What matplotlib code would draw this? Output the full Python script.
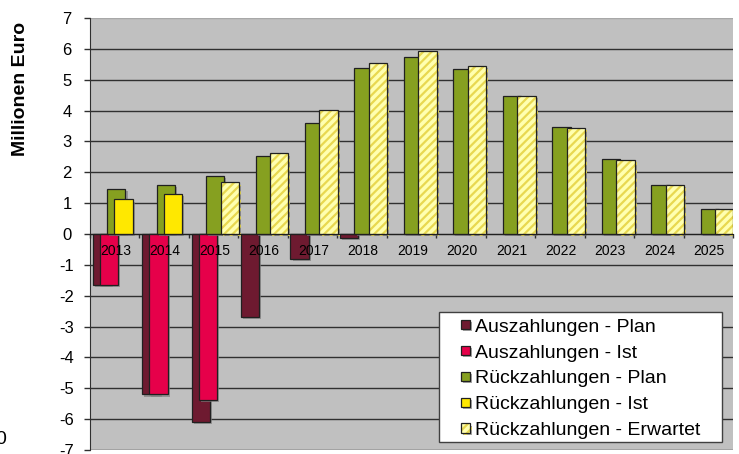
import numpy as np
import matplotlib.pyplot as plt
from matplotlib.patches import Rectangle
import matplotlib.patheffects as pe

plt.rcParams['font.family'] = ['Liberation Sans', 'DejaVu Sans']
plt.rcParams['axes.unicode_minus'] = False
plt.rcParams['hatch.linewidth'] = 1.6

nan = np.nan

# years on the x axis
years = ['2013', '2014', '2015', '2016', '2017', '2018', '2019',
         '2020', '2021', '2022', '2023', '2024', '2025']

# values in Mio. Euro
aus_plan = [-1.65, -5.2, -6.1, -2.7, -0.8, -0.13, nan, nan, nan, nan, nan, nan, nan]
aus_ist = [-1.65, -5.2, -5.37, nan, nan, nan, nan, nan, nan, nan, nan, nan, nan]
rueck_plan = [1.46, 1.58, 1.87, 2.52, 3.59, 5.37, 5.75, 5.34, 4.46, 3.48, 2.44, 1.58, 0.8]
rueck_ist = [1.12, 1.29, nan, nan, nan, nan, nan, nan, nan, nan, nan, nan, nan]
rueck_erw = [nan, nan, 1.67, 2.61, 4.01, 5.53, 5.93, 5.45, 4.48, 3.44, 2.41, 1.58, 0.8]

labels = ['Auszahlungen - Plan', 'Auszahlungen - Ist', 'Rückzahlungen - Plan',
          'Rückzahlungen - Ist', 'Rückzahlungen - Erwartet']
colors = ['#6E1A30', '#E6004A', '#86A020', '#FFE800', '#FFFFB0']
hatch_col = '#E8D850'
edge = '#202020'

fig = plt.figure(figsize=(7.39, 4.54), dpi=100)
ax = fig.add_axes([90 / 739, 4 / 454, 643 / 739, 432 / 454])
ax.set_facecolor('#C0C0C0')

x = np.arange(len(years))
w = 0.37
step = 0.1466
first = -0.5 + 0.053 + w / 2   # centre of first bar inside a category

shadow = [pe.SimplePatchShadow(offset=(1.5, -1.5), shadow_rgbFace='#808080', alpha=0.7),
          pe.Normal()]

series = [aus_plan, aus_ist, rueck_plan, rueck_ist, rueck_erw]
handles = []
for k, vals in enumerate(series):
    pos = x + first + k * step
    if k == 4:
        # hatched bars: pale face + yellow stripes, then a dark outline on top
        hb = ax.bar(pos, vals, w, color=colors[k], edgecolor=hatch_col,
                    hatch='////', linewidth=0, zorder=3 + k)
        for p in hb.patches:
            p.set_path_effects(shadow)
        ob = ax.bar(pos, vals, w, fill=False, edgecolor=edge, linewidth=0.9,
                    zorder=3 + k)
        handles.append((hb, ob))
    else:
        b = ax.bar(pos, vals, w, color=colors[k], edgecolor=edge,
                   linewidth=0.9, zorder=3 + k)
        for p in b.patches:
            p.set_path_effects(shadow)
        handles.append(b)

# axes
ax.set_xlim(-0.5, len(years) - 0.5)
ax.set_ylim(-7, 7)
ax.set_yticks(np.arange(-7, 8))
ax.set_yticklabels([str(v) for v in range(-7, 8)], fontsize=12)
for lbl in ax.get_yticklabels():
    lbl.set_horizontalalignment('center')
ax.tick_params(axis='y', direction='out', length=4, width=1, color='#303030', pad=12.5)

ax.set_xticks(np.arange(-0.5, len(years)))
ax.set_xticklabels([])
ax.tick_params(axis='x', direction='out', length=3, width=1, color='#303030')
ax.spines['bottom'].set_position(('data', 0))
ax.spines['bottom'].set_color('#202020')
ax.spines['bottom'].set_zorder(10)
ax.spines['left'].set_color('#303030')
ax.spines['right'].set_visible(False)
ax.spines['top'].set_visible(False)

ax.set_axisbelow(True)
ax.yaxis.grid(True, color='#303030', linewidth=1)
ax.yaxis.get_gridlines()[-1].set_color('#A8A8A8')

# year labels sit just under the zero line
for i, yr in enumerate(years):
    ax.text(x[i] + 0.02, -0.54, yr, ha='center', va='center', fontsize=10, zorder=20)

# legend with a hand drawn frame
ax.add_patch(Rectangle((0.543, 0.0185), 0.44, 0.301, transform=ax.transAxes,
                       facecolor='white', edgecolor='#404040', linewidth=1, zorder=30))
leg = ax.legend(handles, labels, loc='upper left', bbox_to_anchor=(0.577, 0.304),
                frameon=False, fontsize=14, borderpad=0, borderaxespad=0,
                handlelength=0.47, handleheight=0.36, handletextpad=0.25,
                labelspacing=0.455)
leg.set_zorder(31)

fig.text(21 / 739, 1 - 89 / 454, 'Millionen Euro', rotation=90, fontsize=14,
         fontweight='bold', ha='center', va='center')
fig.text(-5 / 739, 1 - 440 / 454, '0', fontsize=14, ha='left', va='center')

fig.savefig('out.png', dpi=100)
